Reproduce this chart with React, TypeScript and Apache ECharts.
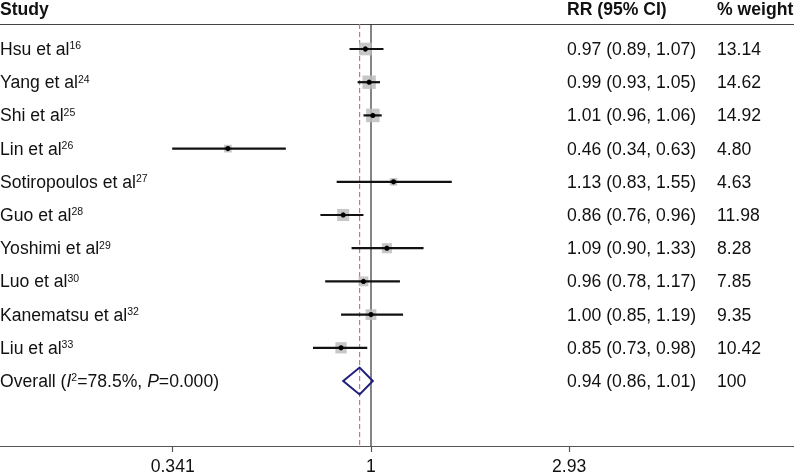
import React, { useEffect, useRef } from "react";
import * as echarts from "echarts";

const studies = ["Hsu et al", "Yang et al", "Shi et al", "Lin et al", "Sotiropoulos et al", "Guo et al", "Yoshimi et al", "Luo et al", "Kanematsu et al", "Liu et al"];
const refs = ["16", "24", "25", "26", "27", "28", "29", "30", "32", "33"];
const rr = [0.97, 0.99, 1.01, 0.46, 1.13, 0.86, 1.09, 0.96, 1.0, 0.85];
const lower = [0.89, 0.93, 0.96, 0.34, 0.83, 0.76, 0.9, 0.78, 0.85, 0.73];
const upper = [1.07, 1.05, 1.06, 0.63, 1.55, 0.96, 1.33, 1.17, 1.19, 0.98];
const weights = [13.14, 14.62, 14.92, 4.8, 4.63, 11.98, 8.28, 7.85, 9.35, 10.42];
const overallRR = 0.94;
const overallLower = 0.86;
const overallUpper = 1.01;
const overallWeight = "100";
const overallI2 = "78.5%";
const overallP = "0.000";
const tickValues = [0.341, 1, 2.93];
const headers = ["Study", "RR (95% CI)", "% weight"];

const FONT = "'Liberation Sans', Arial, Helvetica, sans-serif";
const FS = 17.6;
const TXT = "#111";

export default function App() {
  const ref = useRef<HTMLDivElement>(null);
  useEffect(() => {
    if (!ref.current) return;
    const chart = echarts.init(ref.current, null, { renderer: "svg" });
    const xMin = -2.013;
    const xMax = 2.2952;
    const yMin = -0.753;
    const yMax = 11.958;
    const nRows = studies.length;
    const colRR = 567;
    const colW = 717;

    const rowData = rr.map((r, i) => [Math.log(r), i, Math.log(lower[i]), Math.log(upper[i]), weights[i]]);
    const textData = studies.map((_, i) => [0, i]).concat([[0, nRows]]);

    const richBase = {
      n: { fontSize: FS, fontFamily: FONT, fill: TXT, color: TXT },
      s: { fontSize: 10.5, fontFamily: FONT, fill: TXT, color: TXT, verticalAlign: "top" },
      it: { fontSize: FS, fontFamily: FONT, fontStyle: "italic", fill: TXT, color: TXT },
    };

    const option: any = {
      animation: false,
      grid: { left: 0, right: 0, top: 24, bottom: 30, containLabel: false, outerBoundsMode: "none" },
      xAxis: [
        {
          type: "value",
          min: xMin,
          max: xMax,
          position: "bottom",
          splitLine: { show: false },
          axisLine: { show: true, onZero: false, lineStyle: { color: "#555", width: 1.2 } },
          axisTick: {
            show: true,
            length: 6,
            customValues: tickValues.map((t) => Math.log(t)),
            lineStyle: { color: "#555", width: 1.2 },
          },
          axisLabel: {
            show: true,
            margin: 12,
            lineHeight: 15,
            fontSize: FS,
            fontFamily: FONT,
            color: TXT,
            customValues: tickValues.map((t) => Math.log(t)),
            formatter: (v: number) => {
              const t = tickValues.find((tv) => Math.abs(Math.log(tv) - v) < 1e-6);
              return t === undefined ? "" : String(t);
            },
          },
        },
        {
          type: "value",
          min: xMin,
          max: xMax,
          position: "top",
          splitLine: { show: false },
          axisLine: { show: true, onZero: false, lineStyle: { color: "#444", width: 1.2 } },
          axisTick: { show: false },
          axisLabel: { show: false },
        },
      ],
      yAxis: {
        type: "value",
        min: yMin,
        max: yMax,
        inverse: true,
        show: false,
        splitLine: { show: false },
      },
      graphic: [
        { type: "text", left: 0, top: 0, style: { text: headers[0], font: `bold ${FS}px ${FONT}`, fill: TXT } },
        { type: "text", left: colRR, top: 0, style: { text: headers[1], font: `bold ${FS}px ${FONT}`, fill: TXT } },
        { type: "text", left: colW, top: 0, style: { text: headers[2], font: `bold ${FS}px ${FONT}`, fill: TXT } },
      ],
      series: [
        {
          type: "custom",
          clip: false,
          data: [[0, 0], [Math.log(overallRR), 1]],
          encode: { x: 0, y: 1 },
          renderItem: (params: any, api: any) => {
            const x = api.value(0);
            const dashed = api.value(1) === 1;
            const p1 = api.coord([x, yMin]);
            const p2 = api.coord([x, yMax]);
            return {
              type: "line",
              shape: { x1: p1[0], y1: p1[1], x2: p2[0], y2: p2[1] },
              style: dashed
                ? { stroke: "#c4788c", lineWidth: 1.2, lineDash: [5, 3] }
                : { stroke: "#333", lineWidth: 1.2 },
            };
          },
        },
        {
          type: "custom",
          clip: false,
          data: rowData,
          encode: { x: 0, y: 1 },
          renderItem: (params: any, api: any) => {
            const c = api.coord([api.value(0), api.value(1)]);
            const l = api.coord([api.value(2), api.value(1)]);
            const u = api.coord([api.value(3), api.value(1)]);
            const size = 3.5 * Math.sqrt(api.value(4));
            return {
              type: "group",
              children: [
                {
                  type: "rect",
                  shape: { x: c[0] - size / 2, y: c[1] - size / 2, width: size, height: size },
                  style: { fill: "#bdbdbd", opacity: 0.85 },
                },
                {
                  type: "line",
                  shape: { x1: l[0], y1: l[1], x2: u[0], y2: u[1] },
                  style: { stroke: "#111", lineWidth: 2.2 },
                },
                {
                  type: "circle",
                  shape: { cx: c[0], cy: c[1], r: 2.6 },
                  style: { fill: "#000" },
                },
              ],
            };
          },
        },
        {
          type: "custom",
          clip: false,
          data: [[Math.log(overallRR), nRows, Math.log(overallLower), Math.log(overallUpper)]],
          encode: { x: 0, y: 1 },
          renderItem: (params: any, api: any) => {
            const c = api.coord([api.value(0), api.value(1)]);
            const l = api.coord([api.value(2), api.value(1)]);
            const u = api.coord([api.value(3), api.value(1)]);
            const h = 13.5;
            return {
              type: "polygon",
              shape: { points: [[l[0], c[1]], [c[0], c[1] - h], [u[0], c[1]], [c[0], c[1] + h]] },
              style: { fill: "none", stroke: "#1f1f7a", lineWidth: 2 },
            };
          },
        },
        {
          type: "custom",
          clip: false,
          data: textData,
          encode: { x: 0, y: 1 },
          renderItem: (params: any, api: any) => {
            const i = params.dataIndex;
            const c = api.coord([0, api.value(1)]);
            const y = c[1];
            let label: string;
            let rrText: string;
            let wText: string;
            if (i < nRows) {
              label = `{n|${studies[i]}}{s|${refs[i]}}`;
              rrText = `${rr[i].toFixed(2)} (${lower[i].toFixed(2)}, ${upper[i].toFixed(2)})`;
              wText = weights[i].toFixed(2);
            } else {
              label = `{n|Overall (}{it|I}{s|2}{n|=${overallI2}, }{it|P}{n|=${overallP})}`;
              rrText = `${overallRR.toFixed(2)} (${overallLower.toFixed(2)}, ${overallUpper.toFixed(2)})`;
              wText = overallWeight;
            }
            return {
              type: "group",
              children: [
                {
                  type: "text",
                  style: {
                    text: label,
                    rich: richBase,
                    x: 0,
                    y: y,
                    align: "left",
                    verticalAlign: "middle",
                    fontSize: FS,
                    fontFamily: FONT,
                    fill: TXT,
                  },
                },
                {
                  type: "text",
                  style: { text: rrText, x: colRR, y: y, align: "left", verticalAlign: "middle", font: `${FS}px ${FONT}`, fill: TXT },
                },
                {
                  type: "text",
                  style: { text: wText, x: colW, y: y, align: "left", verticalAlign: "middle", font: `${FS}px ${FONT}`, fill: TXT },
                },
              ],
            };
          },
        },
      ],
    };
    chart.setOption(option);
    return () => chart.dispose();
  }, []);
  return <div ref={ref} style={{ position: "fixed", left: 0, top: 0, width: 794, height: 476 }} />;
}
